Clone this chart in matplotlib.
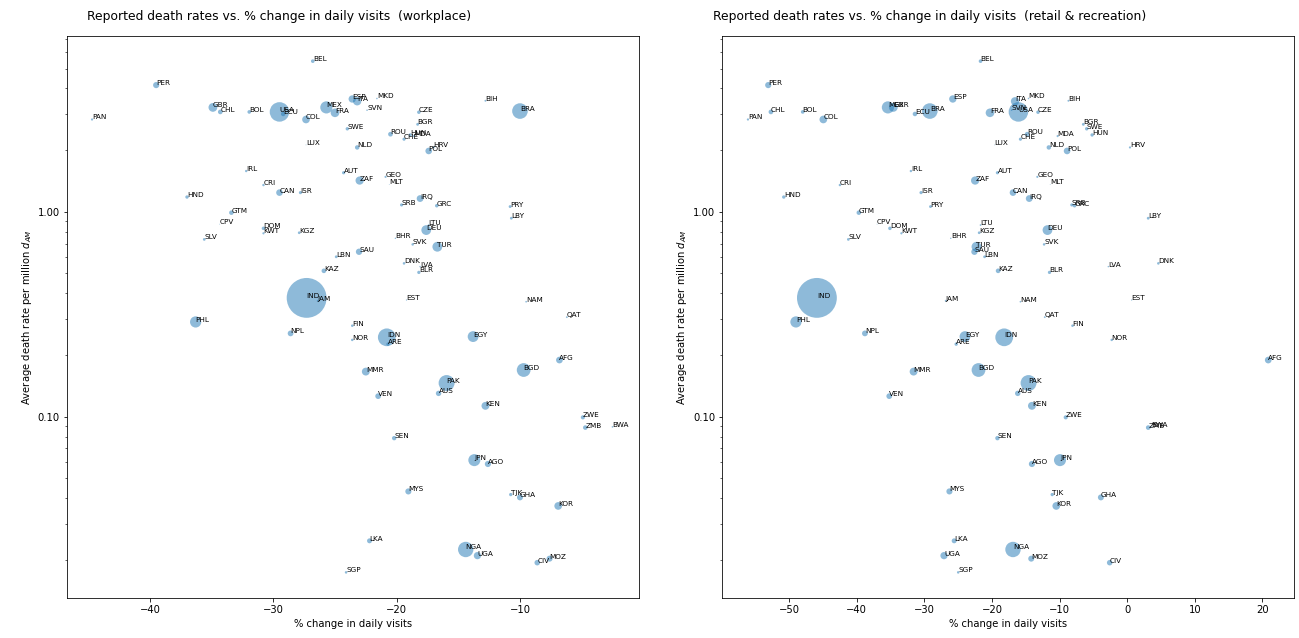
import matplotlib
matplotlib.use("Agg")
import matplotlib.pyplot as plt
from matplotlib.ticker import FormatStrFormatter, NullFormatter

# country codes
countries = [
    "BEL", "PER", "PAN", "GBR", "CHL", "BOL", "USA", "ECU", "COL", "MEX",
    "FRA", "ESP", "ITA", "MKD", "SVN", "SWE", "LUX", "NLD", "CZE", "BGR",
    "ROU", "CHE", "HUN", "MDA", "BIH", "BRA", "POL", "HRV", "AUT", "ZAF",
    "GEO", "MLT", "SRB", "IRQ", "GRC", "PRY", "LBY", "IRL", "CRI", "CAN",
    "ISR", "HND", "GTM", "CPV", "DOM", "KWT", "KGZ", "SLV", "LBN", "KAZ",
    "SAU", "IND", "JAM", "PHL", "NPL", "FIN", "NOR", "IDN", "ARE", "EGY",
    "NAM", "QAT", "EST", "LTU", "DEU", "BHR", "SVK", "TUR", "DNK", "LVA",
    "BLR", "AFG", "BGD", "MMR", "PAK", "AUS", "VEN", "KEN", "ZWE", "ZMB",
    "BWA", "SEN", "JPN", "AGO", "MYS", "TJK", "GHA", "KOR", "LKA", "NGA",
    "UGA", "CIV", "MOZ", "SGP",
]

# % change in daily visits, workplace
workplace = [
    -26.8, -39.5, -44.7, -34.9, -34.3, -31.95, -29.5, -29.2, -27.35, -25.7,
    -25.0, -23.6, -23.2, -21.6, -22.4, -24.0, -27.35, -23.2, -18.2, -18.3,
    -20.5, -19.4, -18.9, -18.6, -12.8, -10.0, -17.4, -17.0, -24.3, -23.0,
    -20.9, -20.6, -19.6, -18.1, -16.75, -10.8, -10.7, -32.2, -30.8, -29.5,
    -27.8, -37.0, -33.4, -34.35, -30.8, -30.8, -27.9, -35.6, -24.9, -25.9,
    -23.05, -27.3, -26.4, -36.3, -28.6, -23.6, -23.6, -20.8, -20.7, -13.8,
    -9.5, -6.2, -19.2, -17.4, -17.6, -20.1, -18.7, -16.7, -19.4, -18.1,
    -18.2, -6.8, -9.7, -22.5, -15.95, -16.6, -21.5, -12.8, -4.9, -4.7,
    -2.5, -20.2, -13.7, -12.6, -19.05, -10.75, -10.0, -6.9, -22.2, -14.4,
    -13.45, -8.6, -7.6, -24.1,
]

# % change in daily visits, retail & recreation
retail = [
    -21.7, -53.1, -56.1, -34.6, -52.7, -48.0, -16.1, -31.4, -44.95, -35.4,
    -20.3, -25.8, -16.6, -14.6, -17.1, -6.0, -19.6, -11.6, -13.2, -6.5,
    -14.8, -15.8, -5.2, -10.3, -8.7, -29.2, -8.9, 0.4, -19.2, -22.5,
    -13.3, -11.4, -8.2, -14.5, -7.8, -29.1, 3.1, -32.0, -42.5, -16.9,
    -30.5, -50.8, -39.7, -37.0, -35.1, -33.4, -21.9, -41.25, -21.1, -19.1,
    -22.6, -45.9, -26.85, -49.0, -38.8, -8.1, -2.3, -18.2, -25.3, -24.0,
    -15.8, -12.2, 0.65, -21.7, -11.8, -26.1, -12.3, -22.3, 4.6, -2.8,
    -11.5, 20.85, -22.0, -31.6, -14.6, -16.2, -35.2, -14.1, -9.1, 3.1,
    3.5, -19.2, -9.95, -14.1, -26.3, -11.1, -3.9, -10.5, -25.6, -16.9,
    -27.1, -2.6, -14.2, -25.0,
]

# average reported death rate per million
death_rate = [
    5.43, 4.15, 2.82, 3.23, 3.07, 3.07, 3.07, 3.00, 2.82, 3.23,
    3.04, 3.55, 3.46, 3.57, 3.13, 2.54, 2.12, 2.06, 3.06, 2.67,
    2.39, 2.26, 2.37, 2.34, 3.48, 3.10, 1.98, 2.06, 1.55, 1.42,
    1.48, 1.36, 1.08, 1.16, 1.07, 1.06, 0.93, 1.58, 1.35, 1.24,
    1.24, 1.18, 0.99, 0.87, 0.83, 0.785, 0.79, 0.733, 0.603, 0.515,
    0.638, 0.38, 0.368, 0.29, 0.255, 0.278, 0.237, 0.244, 0.226, 0.246,
    0.364, 0.306, 0.371, 0.861, 0.814, 0.742, 0.693, 0.675, 0.56, 0.54,
    0.506, 0.189, 0.169, 0.166, 0.146, 0.130, 0.126, 0.113, 0.0993, 0.0885,
    0.0892, 0.0786, 0.0614, 0.0588, 0.0432, 0.0417, 0.0404, 0.0367, 0.0248, 0.0225,
    0.0210, 0.0194, 0.0203, 0.0174,
]

# population, millions (bubble size)
population = [
    11.5, 33.0, 4.3, 67.0, 19.0, 11.7, 331.0, 17.6, 51.0, 129.0,
    65.0, 47.0, 60.0, 2.1, 2.1, 10.1, 0.63, 17.1, 10.7, 6.9,
    19.2, 8.7, 9.7, 4.0, 3.3, 212.0, 38.0, 4.1, 9.0, 59.0,
    4.0, 0.5, 8.7, 40.0, 10.4, 7.1, 6.9, 4.9, 5.1, 38.0,
    8.7, 9.9, 17.9, 0.56, 10.8, 4.3, 6.5, 6.5, 6.8, 18.8,
    34.8, 1380.0, 3.0, 109.6, 29.0, 5.5, 5.4, 273.5, 9.9, 102.0,
    2.5, 2.9, 1.3, 2.7, 83.0, 1.7, 5.5, 84.0, 5.8, 1.9,
    9.4, 39.0, 165.0, 54.0, 221.0, 25.5, 28.4, 53.8, 14.9, 18.4,
    2.4, 16.7, 126.0, 32.9, 32.4, 9.5, 31.0, 51.3, 21.4, 206.0,
    45.7, 26.4, 31.3, 5.7,
]

panels = [
    ("workplace", workplace, (-46.76, -0.35), 0.035),
    ("retail & recreation", retail, (-59.9, 24.65), -0.016),
]

plt.rcParams.update({"font.size": 10, "axes.titlesize": 12.4})
fig = plt.figure(figsize=(1299 / 72, 638 / 72), dpi=72)
axes = [fig.add_axes([0.0513, 0.0622, 0.4406, 0.8813]),
        fig.add_axes([0.5560, 0.0622, 0.4401, 0.8813])]

sizes = [p * 1.15 for p in population]

for ax, (name, xs, xlim, title_x) in zip(axes, panels):
    ax.scatter(xs, death_rate, s=sizes, alpha=0.5, color="#1f77b4", edgecolors="none")
    for code, x, y in zip(countries, xs, death_rate):
        ax.annotate(code, (x, y), fontsize=7.3)
    ax.set_yscale("log")
    ax.set_xlim(xlim)
    ax.set_ylim(0.013, 7.2)
    ax.yaxis.set_major_formatter(FormatStrFormatter("%.2f"))
    ax.yaxis.set_minor_formatter(NullFormatter())
    ax.set_xlabel("% change in daily visits")
    ax.set_ylabel("Average death rate per million $d_{AM}$")
    ax.set_title(f"Reported death rates vs. % change in daily visits  ({name})",
                 loc="left", x=title_x, pad=16)

fig.savefig("out.png", dpi=72)
